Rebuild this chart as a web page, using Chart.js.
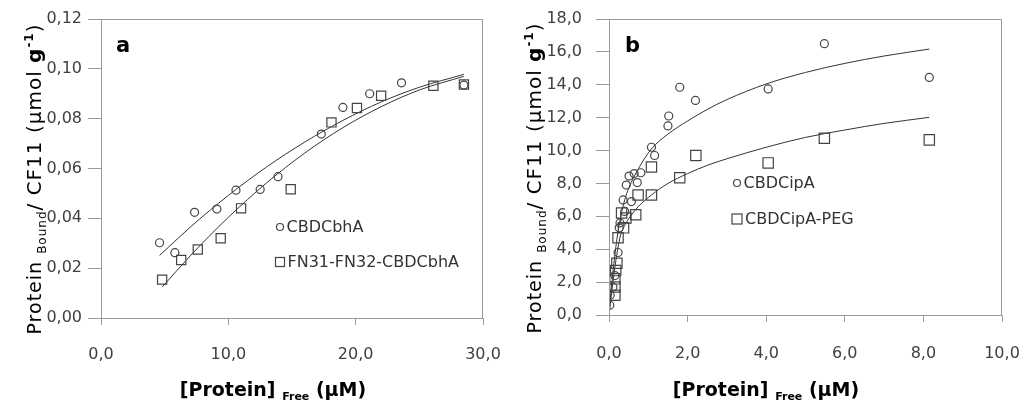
<!DOCTYPE html>
<html>
<head>
<meta charset="utf-8">
<script src="https://cdn.jsdelivr.net/npm/chart.js@4.4.1/dist/chart.umd.min.js"></script>
<style>
  html, body { margin: 0; padding: 0; background: #fff; }
  #wrap { position: relative; width: 1022px; height: 406px; }
  .panel { position: absolute; top: 0; height: 406px; }
  #panelA { left: 0; width: 510px; }
  #panelB { left: 510px; width: 512px; }
</style>
</head>
<body>
<div id="wrap">
  <div class="panel" id="panelA"><canvas id="chartA"></canvas></div>
  <div class="panel" id="panelB"><canvas id="chartB"></canvas></div>
</div>
<script>
// panel a: CBDCbhA / FN31-FN32-CBDCbhA, free protein (uM) vs bound (umol/g)
const cbhX = [4.6, 5.8, 7.35, 9.1, 10.6, 12.5, 13.9, 17.3, 19.0, 21.1, 23.6, 28.5];
const cbhY = [0.0302, 0.0262, 0.0424, 0.0437, 0.0513, 0.0516, 0.0567, 0.0738, 0.0845, 0.0900, 0.0944, 0.0935];
const fnX = [4.8, 6.3, 7.6, 9.4, 11.0, 14.9, 18.1, 20.1, 22.0, 26.1, 28.5];
const fnY = [0.0154, 0.0233, 0.0275, 0.0320, 0.0440, 0.0517, 0.0785, 0.0843, 0.0892, 0.0932, 0.0937];
// trend lines
const cbhFitX = [4.6, 7, 10, 13, 16, 19, 22, 25, 28.5];
const cbhFitY = [0.0251, 0.0364, 0.0492, 0.0606, 0.0706, 0.0793, 0.0867, 0.0926, 0.0978];
const fnFitX = [4.8, 7, 10, 13, 16, 19, 22, 25, 28.5];
const fnFitY = [0.0124, 0.0249, 0.0404, 0.0542, 0.0662, 0.0764, 0.0848, 0.0915, 0.0970];

// panel b: CBDCipA / CBDCipA-PEG
const cipX = [0.02, 0.03, 0.10, 0.15, 0.23, 0.26, 0.28, 0.36, 0.40, 0.44, 0.51, 0.57, 0.64, 0.72, 0.81, 1.08, 1.16, 1.50, 1.52, 1.80, 2.20, 4.05, 5.48, 8.15];
const cipY = [0.6, 1.2, 1.7, 2.4, 3.8, 5.3, 5.6, 7.0, 6.3, 7.9, 8.45, 6.9, 8.6, 8.05, 8.65, 10.2, 9.7, 11.5, 12.1, 13.85, 13.05, 13.75, 16.5, 14.45];
const pegX = [0.15, 0.15, 0.15, 0.17, 0.20, 0.23, 0.32, 0.37, 0.43, 0.68, 0.74, 1.08, 1.08, 1.80, 2.21, 4.05, 5.48, 8.15];
const pegY = [1.2, 1.7, 2.2, 2.7, 3.15, 4.7, 6.2, 5.3, 5.9, 6.1, 7.3, 7.3, 9.0, 8.35, 9.7, 9.25, 10.75, 10.65];
const bFitX = [0, 0.05, 0.1, 0.2, 0.3, 0.4, 0.5, 0.75, 1.08, 1.5, 2, 2.5, 3, 4, 5, 6, 7, 8.15];
const cipFitY = [0, 1.4, 2.6, 4.6, 6.0, 7.0, 7.7, 8.9, 10.1, 11.0, 11.8, 12.5, 13.1, 14.05, 14.75, 15.3, 15.75, 16.17];
const pegFitY = [0, 1.0, 2.0, 3.7, 4.9, 5.45, 5.85, 6.6, 7.3, 8.0, 8.6, 9.1, 9.5, 10.2, 10.8, 11.25, 11.65, 12.02];

const FONT = 'DejaVu Sans';
const MARK = '#444';
const AXIS = '#9a9a9a';

function pares(xs, ys) {
  return xs.map((x, i) => ({ x: x, y: ys[i] }));
}

function pontos(label, xs, ys, estilo, raio) {
  return {
    label: label,
    data: pares(xs, ys),
    showLine: false,
    pointStyle: estilo,
    pointRadius: raio,
    pointBorderColor: MARK,
    pointBackgroundColor: 'rgba(0,0,0,0)',
    pointBorderWidth: 1.2
  };
}

function linha(xs, ys) {
  return {
    label: '',
    data: pares(xs, ys),
    showLine: true,
    pointRadius: 0,
    borderColor: '#333',
    borderWidth: 1,
    cubicInterpolationMode: 'monotone',
    fill: false
  };
}

// draws a run of text pieces (font, baseline shift) starting at pos
function escrever(ctx, partes, pos, base) {
  partes.forEach(p => {
    ctx.font = p.f;
    ctx.fillText(p.t, pos, base + p.d);
    pos += ctx.measureText(p.t).width;
  });
}

function largura(ctx, partes) {
  let total = 0;
  partes.forEach(p => { ctx.font = p.f; total += ctx.measureText(p.t).width; });
  return total;
}

// y title: Protein_Bound/ CF11 (umol g^-1), rotated
function tituloY(ctx, x, y) {
  const partes = [
    { t: 'Protein ', f: '19px ' + FONT, d: 0 },
    { t: 'Bound', f: '12px ' + FONT, d: 5 },
    { t: '/ CF11 (\u00b5mol ', f: '20px ' + FONT, d: 0 },
    { t: 'g', f: 'bold 20px ' + FONT, d: 0 },
    { t: '-1', f: 'bold 12px ' + FONT, d: -8 },
    { t: ')', f: '20px ' + FONT, d: 0 }
  ];
  ctx.save();
  ctx.translate(x, y);
  ctx.rotate(-Math.PI / 2);
  ctx.fillStyle = '#000';
  ctx.textBaseline = 'alphabetic';
  ctx.textAlign = 'left';
  ctx.letterSpacing = '1px';
  escrever(ctx, partes, -largura(ctx, partes) / 2, 0);
  ctx.restore();
}

// x title: [Protein]_Free (uM)
function tituloX(ctx, cx, base) {
  const partes = [
    { t: '[Protein] ', f: 'bold 19px ' + FONT, d: 0 },
    { t: 'Free', f: 'bold 11px ' + FONT, d: 4 },
    { t: ' (\u00b5M)', f: 'bold 19px ' + FONT, d: 0 }
  ];
  ctx.save();
  ctx.fillStyle = '#000';
  ctx.textBaseline = 'alphabetic';
  ctx.textAlign = 'left';
  escrever(ctx, partes, cx - largura(ctx, partes) / 2, base);
  ctx.restore();
}

const extras = {
  id: 'extras',
  afterDraw(chart, args, opts) {
    const ctx = chart.ctx;
    const a = chart.chartArea;
    // frame around the plot
    ctx.save();
    ctx.strokeStyle = AXIS;
    ctx.lineWidth = 1;
    ctx.strokeRect(Math.round(a.left) + 0.5, Math.round(a.top) + 0.5,
      Math.round(a.right - a.left) - 1, Math.round(a.bottom - a.top));
    ctx.restore();

    // panel letter
    ctx.save();
    ctx.fillStyle = '#000';
    ctx.font = 'bold 21px ' + FONT;
    ctx.textBaseline = 'alphabetic';
    ctx.fillText(opts.letra, opts.letraX, opts.letraY);
    ctx.restore();

    // legend
    opts.legenda.forEach(item => {
      const ds = chart.data.datasets[item.ds];
      ctx.save();
      ctx.strokeStyle = MARK;
      ctx.lineWidth = 1.2;
      if (ds.pointStyle === 'circle') {
        ctx.beginPath();
        ctx.arc(item.x, item.y, item.r, 0, Math.PI * 2);
        ctx.stroke();
      } else {
        ctx.strokeRect(item.x - item.r, item.y - item.r, item.r * 2, item.r * 2);
      }
      ctx.fillStyle = '#333';
      ctx.font = '16px ' + FONT;
      ctx.textBaseline = 'middle';
      ctx.fillText(ds.label, item.x + item.r + 3, item.y + 1);
      ctx.restore();
    });

    tituloY(ctx, opts.yTitX, opts.yTitY);
    tituloX(ctx, opts.xTitX, opts.xTitY);
  }
};

function eixo(min, max, passo, casas, pad, traco, tam, lado) {
  return {
    type: 'linear',
    min: min,
    max: max,
    ticks: {
      stepSize: passo,
      padding: pad,
      color: '#404040',
      font: { family: FONT, size: 16 },
      callback: v => v.toFixed(casas).replace('.', ',')
    },
    grid: { drawOnChartArea: false, drawTicks: true, tickLength: traco, color: AXIS },
    border: { display: true, color: AXIS },
    afterFit: s => {
      if (lado === 'x') s.height = tam; else s.width = tam;
      // plot area is set by layout.padding alone
      s.paddingLeft = s.paddingRight = s.paddingTop = s.paddingBottom = 0;
    }
  };
}

function criarGrafico(id, datasets, escalas, padding, extrasOpts) {
  const ctx = document.getElementById(id).getContext('2d');
  return new Chart(ctx, {
    type: 'scatter',
    data: { datasets: datasets },
    options: {
      responsive: true,
      maintainAspectRatio: false,
      animation: false,
      layout: { padding: padding },
      plugins: { legend: { display: false }, tooltip: { enabled: false }, extras: extrasOpts },
      scales: escalas
    },
    plugins: [extras]
  });
}

criarGrafico('chartA',
  [
    pontos('CBDCbhA', cbhX, cbhY, 'circle', 4),
    pontos('FN31-FN32-CBDCbhA', fnX, fnY, 'rect', 6.5),
    linha(cbhFitX, cbhFitY),
    linha(fnFitX, fnFitY)
  ],
  {
    x: eixo(0, 30, 10, 1, 20, 7, 88, 'x'),
    y: eixo(0, 0.12, 0.02, 2, 6, 13, 101, 'y')
  },
  { left: 0, right: 27, top: 19, bottom: 0 },
  {
    letra: 'a', letraX: 116, letraY: 52,
    legenda: [{ ds: 0, x: 280, y: 227, r: 3.5 }, { ds: 1, x: 280, y: 262, r: 4.5 }],
    yTitX: 41, yTitY: 179, xTitX: 273, xTitY: 396
  });

criarGrafico('chartB',
  [
    pontos('CBDCipA', cipX, cipY, 'circle', 4),
    pontos('CBDCipA-PEG', pegX, pegY, 'rect', 7.3),
    linha(bFitX, cipFitY),
    linha(bFitX, pegFitY)
  ],
  {
    x: eixo(0, 10, 2, 1, 22, 7, 91, 'x'),
    y: eixo(0, 18, 2, 1, 14, 13, 99, 'y')
  },
  { left: 0, right: 20, top: 19, bottom: 0 },
  {
    letra: 'b', letraX: 115, letraY: 52,
    legenda: [{ ds: 0, x: 227, y: 183, r: 3.5 }, { ds: 1, x: 227, y: 219, r: 5 }],
    yTitX: 31, yTitY: 178, xTitX: 256, xTitY: 396
  });
</script>
</body>
</html>
